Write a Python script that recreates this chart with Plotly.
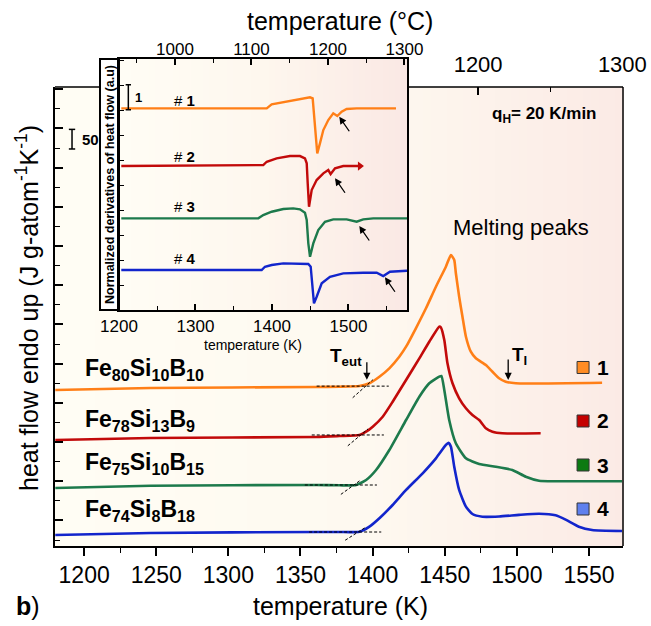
import plotly.graph_objects as go

FONT = "Liberation Sans, Arial, sans-serif"

# ---------------- data ----------------
# DSC heating scans (temperature in K, heat flow with vertical offsets per sample)
temp_1 = [1180, 1246, 1361, 1377, 1390.9, 1397.8, 1404.7, 1411.6, 1418.5, 1423.2, 1430.0, 1437.0,
          1443.9, 1450.8, 1454.3, 1456.6, 1457.7, 1460.0, 1462.3, 1464.7, 1468.1, 1471.6, 1478.5,
          1483.1, 1487.7, 1492.3, 1499.3, 1559.1]
flow_1 = [432.7, 437.8, 440.3, 441.1, 442.9, 449.8, 466.6, 488.0, 517.6, 543.1, 590.1, 641.1,
          696.2, 747.2, 777.0, 764.3, 731.1, 670.7, 619.6, 568.6, 530.4, 513.5, 496.4,
          479.3, 462.5, 453.8, 449.8, 451.3]

temp_2 = [1180, 1246, 1361, 1377, 1390.9, 1395.5, 1400.1, 1407.0, 1413.9, 1423.2, 1432.4, 1439.3,
          1446.2, 1447.3, 1449.7, 1451.9, 1455.4, 1460.0, 1464.7, 1469.2, 1473.9, 1478.5, 1483.1,
          1490.0, 1516.5]
flow_2 = [305.1, 310.2, 312.8, 315.3, 317.9, 326.3, 339.0, 364.5, 402.8, 458.2, 513.5, 555.9,
          594.1, 592.6, 560.2, 500.8, 449.8, 411.5, 386.0, 368.9, 356.1, 334.9, 326.3,
          322.2, 322.2]

temp_3 = [1180, 1246, 1361, 1377, 1388.6, 1395.5, 1402.4, 1411.6, 1423.2, 1432.4, 1439.3, 1446.2,
          1447.7, 1449.7, 1453.1, 1457.7, 1464.7, 1473.9, 1485.4, 1496.9, 1506.2, 1515.4, 1526.9,
          1572.9]
flow_3 = [182.7, 188.5, 190.3, 189.5, 190.3, 203.1, 228.6, 279.6, 356.1, 415.6, 449.8, 466.6,
          468.4, 432.7, 356.1, 296.7, 258.4, 243.9, 237.0, 228.6, 211.5, 201.3, 199.8,
          199.8]

temp_4 = [1180, 1246, 1361, 1377, 1390.9, 1397.8, 1404.7, 1413.9, 1423.2, 1434.7, 1443.9, 1450.8,
          1452.6, 1454.3, 1456.6, 1460.0, 1464.7, 1469.2, 1476.1, 1487.7, 1501.5, 1515.4, 1526.9,
          1533.8, 1543.0, 1552.2, 1572.9]
flow_4 = [62.8, 67.9, 70.4, 70.4, 71.2, 84.0, 105.4, 139.3, 177.6, 220.2, 258.4, 292.4,
          298.2, 288.0, 237.0, 177.6, 135.0, 116.3, 109.4, 110.0, 114.0, 117.0, 113.0,
          102.0, 84.0, 75.5, 73.0]

# normalized derivatives of the heat flow (inset)
dtemp_1 = [1203, 1393.1, 1399.6, 1406.1, 1423.5, 1440.9, 1449.7, 1453.2, 1454.9, 1457.5, 1459.2,
           1462.7, 1467.1, 1473.6, 1480.1, 1485.4, 1491.1, 1497.6, 1510.7, 1562.1]
dflow_1 = [8.096, 8.096, 8.256, 8.296, 8.40, 8.496, 8.536, 8.496, 7.76, 6.696, 6.296,
           6.696, 7.228, 7.628, 7.896, 7.788, 7.96, 8.068, 8.096, 8.096]

dtemp_2 = [1203, 1388.6, 1393.1, 1406.1, 1423.5, 1436.6, 1443.1, 1445.4, 1446.7, 1448.4, 1451.9,
           1458.4, 1467.1, 1473.6, 1476.7, 1482.4, 1493.2, 1515.0]
dflow_2 = [5.788, 5.828, 5.96, 6.096, 6.188, 6.188, 6.096, 5.896, 5.096, 4.16, 4.828,
           5.228, 5.496, 5.628, 5.468, 5.696, 5.788, 5.788]

dtemp_3 = [1203, 1382.1, 1388.6, 1399.6, 1414.8, 1427.8, 1436.6, 1443.1, 1445.4, 1447.5, 1449.7,
           1454.0, 1460.5, 1469.3, 1480.1, 1497.6, 1510.7, 1519.3, 1532.4, 1576.5]
dflow_3 = [3.696, 3.696, 3.828, 3.96, 4.068, 4.096, 4.056, 3.92, 3.628, 2.696, 2.16,
           2.696, 3.228, 3.56, 3.656, 3.656, 3.56, 3.656, 3.696, 3.696]

dtemp_4 = [1203, 1386.5, 1390.8, 1399.6, 1414.8, 1432.3, 1447.5, 1450.6, 1452.7, 1454.9, 1458.4,
           1465.0, 1475.8, 1493.2, 1519.3, 1536.9, 1545.5, 1554.2, 1576.5]
dflow_4 = [1.628, 1.628, 1.76, 1.828, 1.896, 1.868, 1.868, 1.76, 1.096, 0.296, 0.56,
           1.096, 1.36, 1.496, 1.52, 1.52, 1.388, 1.56, 1.6]

alloys = ["Fe<sub>80</sub>Si<sub>10</sub>B<sub>10</sub>",
          "Fe<sub>78</sub>Si<sub>13</sub>B<sub>9</sub>",
          "Fe<sub>75</sub>Si<sub>10</sub>B<sub>15</sub>",
          "Fe<sub>74</sub>Si<sub>8</sub>B<sub>18</sub>"]
sample_ids = ["1", "2", "3", "4"]
line_colors = ["#ff7f17", "#c20a0a", "#1d7a4c", "#1225cc"]
key_colors = ["#ff8c24", "#c40000", "#0c7a12", "#5f80ee"]

# eutectic onset construction (baseline level and leading-edge slope)
onset_T = [1395.2, 1391.8, 1387.0, 1390.0]
onset_base = [442.5, 317.9, 190.3, 70.4]
onset_slope = [3.28, 3.07, 2.66, 2.33]
T_liquidus = 1494.0

# small events marked by arrows in the derivative curves
dip_T = [1488.0, 1482.4, 1514.1, 1547.7]
dip_V = [7.76, 5.30, 3.39, 1.34]

# label placement levels
alloy_label_y = [483.7, 356.1, 243.9, 124.0]
key_y = [490.1, 353.6, 241.3, 129.1]
inset_label_y = [8.43, 6.16, 4.16, 2.10]

K0 = 273.15
X_MAIN = [1179.8, 1573.6]
Y_MAIN = [34.7, 1205.6]
X_INSET = [1200.0, 1576.5]
Y_INSET = [0.03, 10.07]

# ---------------- layout geometry ----------------
W, H = 651, 626
ML, MR, MT, MB = 55, 28, 59, 80
PW, PH = W - ML - MR, H - MT - MB


def fx(x):
    return (x - ML) / PW


def fy(y):
    return (H - MB - y) / PH


fig = go.Figure()

mains = [(temp_1, flow_1), (temp_2, flow_2), (temp_3, flow_3), (temp_4, flow_4)]
for (t, q), c in zip(mains, line_colors):
    fig.add_trace(go.Scatter(x=t, y=q, mode="lines", xaxis="x", yaxis="y",
                             line=dict(color=c, width=2.6, shape="spline", smoothing=0.5),
                             hoverinfo="skip"))

# onset tangents
for i in range(4):
    t0, b, s = onset_T[i], onset_base[i], onset_slope[i]
    fig.add_trace(go.Scatter(x=[t0 - 34, t0 + 16], y=[b, b], mode="lines",
                             line=dict(color="black", width=1, dash="3px,2px"), hoverinfo="skip"))
    fig.add_trace(go.Scatter(x=[t0 - 9, t0 + 5], y=[b - 9 * s, b + 5 * s], mode="lines",
                             line=dict(color="black", width=1, dash="3px,2px"), hoverinfo="skip"))

# sample key squares
fig.add_trace(go.Scatter(x=[1545.9] * 4, y=key_y, mode="markers", xaxis="x", yaxis="y",
                         marker=dict(symbol="square", size=12, color=key_colors,
                                     line=dict(color="#333333", width=1)), hoverinfo="skip"))

insets = [(dtemp_1, dflow_1), (dtemp_2, dflow_2), (dtemp_3, dflow_3), (dtemp_4, dflow_4)]
for (t, q), c in zip(insets, line_colors):
    fig.add_trace(go.Scatter(x=t, y=q, mode="lines", xaxis="x2", yaxis="y2",
                             line=dict(color=c, width=2.4), hoverinfo="skip"))
# arrowhead at the end of the shortened scan #2
fig.add_trace(go.Scatter(x=[dtemp_2[-1]], y=[dflow_2[-1]], mode="markers", xaxis="x2", yaxis="y2",
                         marker=dict(symbol="triangle-right", size=8, color=line_colors[1]),
                         hoverinfo="skip"))

# empty traces so the Celsius axes get drawn
fig.add_trace(go.Scatter(x=[], y=[], xaxis="x3", yaxis="y", hoverinfo="skip"))
fig.add_trace(go.Scatter(x=[], y=[], xaxis="x4", yaxis="y2", hoverinfo="skip"))

# ---------------- background gradients ----------------
def lerp(stops, t):
    for (t0, c0), (t1, c1) in zip(stops, stops[1:]):
        if t <= t1:
            f = (t - t0) / (t1 - t0)
            return "rgb(%d,%d,%d)" % tuple(round(a + (b - a) * f) for a, b in zip(c0, c1))
    return "rgb(%d,%d,%d)" % stops[-1][1]


shapes = []
main_stops = [(0.0, (255, 253, 244)), (0.55, (254, 249, 240)), (1.0, (251, 234, 229))]
n = 71
x0p, x1p = 55, 623
for k in range(n):
    a = x0p + (x1p - x0p) * k / n
    b = x0p + (x1p - x0p) * (k + 1) / n
    shapes.append(dict(type="rect", xref="paper", yref="paper", x0=fx(a), x1=fx(b + 0.6),
                       y0=fy(546), y1=fy(87), fillcolor=lerp(main_stops, (k + 0.5) / n),
                       line=dict(width=0), layer="below"))
inset_stops = [(0.0, (255, 253, 245)), (0.5, (254, 247, 238)), (1.0, (250, 232, 228))]
n = 48
x0p, x1p = 119, 407
for k in range(n):
    a = x0p + (x1p - x0p) * k / n
    b = x0p + (x1p - x0p) * (k + 1) / n
    shapes.append(dict(type="rect", xref="paper", yref="paper", x0=fx(a), x1=fx(b + 0.6),
                       y0=fy(310), y1=fy(59), fillcolor=lerp(inset_stops, (k + 0.5) / n),
                       line=dict(width=0), layer="below"))
# title strip of the inset
shapes.append(dict(type="rect", xref="paper", yref="paper", x0=fx(100), x1=fx(119),
                   y0=fy(310), y1=fy(59), fillcolor="white",
                   line=dict(color="black", width=2), layer="below"))
# remaining frame of the main panel
frame = dict(color="black", width=1.5)
shapes.append(dict(type="line", xref="paper", yref="paper", x0=1, x1=1, y0=0, y1=fy(87), line=frame))
shapes.append(dict(type="line", xref="paper", yref="paper", x0=0, x1=fx(100), y0=fy(87), y1=fy(87), line=frame))
shapes.append(dict(type="line", xref="paper", yref="paper", x0=fx(407), x1=1, y0=fy(87), y1=fy(87), line=frame))

# scale bars
bar = dict(color="black", width=1.5)
sx, s_lo, s_len = 1191.6, 1047.5, 50
shapes += [dict(type="line", xref="x", yref="y", x0=sx, x1=sx, y0=s_lo, y1=s_lo + s_len, line=bar),
           dict(type="line", xref="x", yref="y", x0=sx - 2.2, x1=sx + 2.2, y0=s_lo, y1=s_lo, line=bar),
           dict(type="line", xref="x", yref="y", x0=sx - 2.2, x1=sx + 2.2, y0=s_lo + s_len, y1=s_lo + s_len, line=bar)]
ix, i_lo, i_len = 1212.2, 8.04, 1
shapes += [dict(type="line", xref="x2", yref="y2", x0=ix, x1=ix, y0=i_lo, y1=i_lo + i_len, line=bar),
           dict(type="line", xref="x2", yref="y2", x0=ix - 3.5, x1=ix + 3.5, y0=i_lo, y1=i_lo, line=bar),
           dict(type="line", xref="x2", yref="y2", x0=ix - 3.5, x1=ix + 3.5, y0=i_lo + i_len, y1=i_lo + i_len, line=bar)]

# ---------------- annotations ----------------
ann = []


def text(x, y, s, size, xref="paper", yref="paper", xanchor="center", yanchor="middle", angle=0):
    ann.append(dict(x=x, y=y, xref=xref, yref=yref, text=s, showarrow=False, xanchor=xanchor,
                    yanchor=yanchor, textangle=angle, font=dict(size=size, color="black", family=FONT)))


text(fx(340), fy(606), "temperature (K)", 25)
text(fx(340), fy(21), "temperature (°C)", 25)
text(fx(27), fy(308), "heat flow endo up (J g-atom<sup>-1</sup>K<sup>-1</sup>)", 25, angle=-90)
text(fx(28), fy(606), "<b>b</b>)", 25)
text(fx(253), fy(345), "temperature (K)", 14)
text(fx(109.5), fy(184.5), "<b>Normalized derivatives of heat flow (a.u)</b>", 12.5, angle=-90)

for lab, yv in zip(alloys, alloy_label_y):
    text(1199.2, yv, "<b>" + lab + "</b>", 23, "x", "y", xanchor="left")
for sid, yv in zip(sample_ids, key_y):
    text(1559.7, yv, "<b>" + sid + "</b>", 21, "x", "y")
for sid, yv in zip(sample_ids, inset_label_y):
    text(1286, yv, "# <b>" + sid + "</b>", 15, "x2", "y2")

text(1502.9, 846.0, "Melting peaks", 22, "x", "y")
text(1519.5, 1134.2, "<b>q<sub>H</sub>= 20 K/min</b>", 17, "x", "y")
text(sx + 5.5, s_lo + s_len / 2, "<b>50</b>", 15, "x", "y", xanchor="left")
text(ix + 5.5, i_lo + i_len / 2, "<b>1</b>", 13, "x2", "y2", xanchor="left")
text(onset_T[0] - 1.0, 518.0, "<b>T<sub>eut</sub></b>", 19, "x", "y", xanchor="right")
text(T_liquidus + 1.2, 520.0, "<b>T<sub>l</sub></b>", 19, "x", "y", xanchor="left")

arrow_kw = dict(showarrow=True, arrowhead=2, arrowsize=1.1, arrowwidth=1.3, arrowcolor="black", text="")
ann.append(dict(x=onset_T[0] + 0.8, y=onset_base[0] + 16, xref="x", yref="y", ax=0, ay=-19, **arrow_kw))
ann.append(dict(x=T_liquidus, y=flow_1[-1] + 7, xref="x", yref="y", ax=0, ay=-22, **arrow_kw))
for tv, vv in zip(dip_T, dip_V):
    ann.append(dict(x=tv, y=vv, xref="x2", yref="y2", ax=11, ay=16, **arrow_kw))

tickfont_main = dict(size=23, color="black", family=FONT)
tickfont_inset = dict(size=17, color="black", family=FONT)

fig.update_layout(
    width=W, height=H,
    margin=dict(l=ML, r=MR, t=MT, b=MB, autoexpand=False),
    paper_bgcolor="white", plot_bgcolor="rgba(0,0,0,0)",
    showlegend=False, font=dict(family=FONT, color="black"),
    shapes=shapes, annotations=ann,
    xaxis=dict(domain=[0, 1], anchor="y", range=X_MAIN, tickmode="linear", tick0=1200, dtick=50,
               ticks="outside", ticklen=8, tickwidth=1.5, tickcolor="black",
               minor=dict(tick0=1200, dtick=25, ticks="outside", ticklen=5, tickwidth=1.2,
                          tickcolor="black", showgrid=False),
               showline=True, linewidth=1.5, linecolor="black", showgrid=False, zeroline=False,
               tickfont=tickfont_main),
    yaxis=dict(domain=[0, fy(87)], anchor="x", range=Y_MAIN, tickmode="linear", tick0=0, dtick=100,
               ticks="inside", ticklen=8, tickwidth=1.5, tickcolor="black",
               minor=dict(tick0=0, dtick=50, ticks="inside", ticklen=5, tickwidth=1.2,
                          tickcolor="black", showgrid=False),
               showticklabels=False, showline=True, linewidth=1.5, linecolor="black",
               showgrid=False, zeroline=False),
    xaxis3=dict(overlaying="x", side="top", anchor="y", range=[X_MAIN[0] - K0, X_MAIN[1] - K0],
                tickmode="array", tickvals=[1200, 1300], ticks="inside", ticklen=8, tickwidth=1.5,
                tickcolor="black", ticklabelstandoff=10,
                minor=dict(tickmode="array", tickvals=[1250], ticks="inside", ticklen=5,
                           tickwidth=1.2, tickcolor="black", showgrid=False),
                showline=False, showgrid=False, zeroline=False, tickfont=dict(size=22, color="black", family=FONT)),
    xaxis2=dict(domain=[fx(119), fx(407)], anchor="y2", range=X_INSET, tickmode="linear", tick0=1200,
                dtick=100, ticks="inside", ticklen=6, tickwidth=1.5, tickcolor="black",
                minor=dict(tick0=1200, dtick=50, ticks="inside", ticklen=4, tickwidth=1.2,
                           tickcolor="black", showgrid=False),
                showline=True, mirror=True, linewidth=2, linecolor="black", showgrid=False,
                zeroline=False, tickfont=tickfont_inset),
    yaxis2=dict(domain=[fy(310), 1], anchor="x2", range=Y_INSET, tickmode="linear", tick0=0, dtick=1,
                ticks="inside", ticklen=5, tickwidth=1.2, tickcolor="black", showticklabels=False,
                showline=True, mirror=True, linewidth=2, linecolor="black", showgrid=False,
                zeroline=False),
    xaxis4=dict(overlaying="x2", side="top", anchor="y2", range=[X_INSET[0] - K0, X_INSET[1] - K0],
                tickmode="linear", tick0=1000, dtick=100, ticks="inside", ticklen=6, tickwidth=1.5,
                tickcolor="black",
                minor=dict(tick0=1000, dtick=50, ticks="inside", ticklen=4, tickwidth=1.2,
                           tickcolor="black", showgrid=False),
                showline=False, showgrid=False, zeroline=False, tickfont=tickfont_inset),
)

fig.write_html("out.html")
